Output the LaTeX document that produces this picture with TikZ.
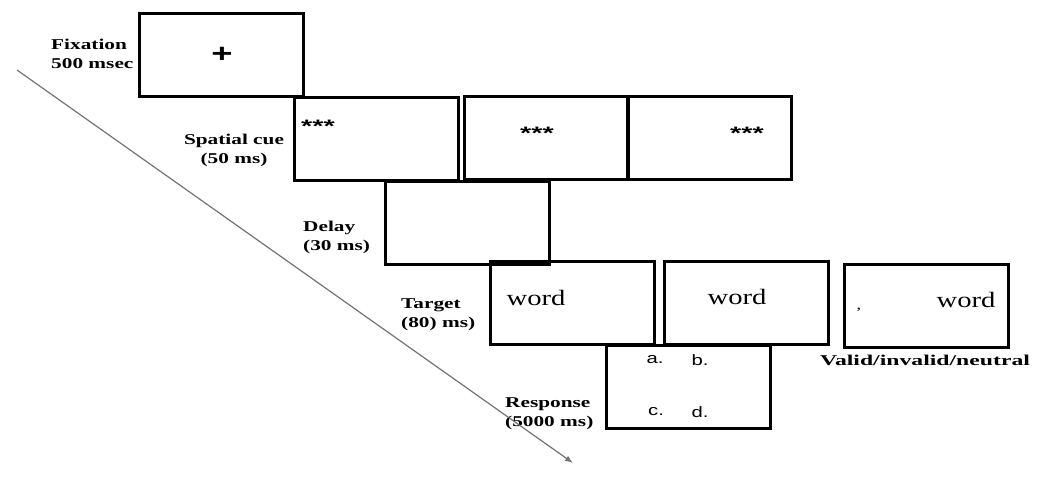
\documentclass[tikz,border=0pt]{standalone}
\usepackage{fontspec}
\usetikzlibrary{arrows.meta}
\setmainfont{Liberation Serif}
\newfontfamily\lblfont[FakeStretch=1.42]{Liberation Serif}
\newfontfamily\validfont[FakeStretch=1.58]{Liberation Serif}
\newfontfamily\wordfont[FakeStretch=1.3]{Liberation Serif}
\newfontfamily\starfont[FakeStretch=1.6]{Liberation Sans}
\newfontfamily\optfont[FakeStretch=1.35]{Liberation Sans}
\newfontfamily\plusfont[FakeStretch=1.4]{Liberation Sans}

\begin{document}
\begin{tikzpicture}[x=1pt,y=-1pt,
  screen/.style={draw=black, line width=2.8pt, minimum width=164pt,
    minimum height=83pt, inner sep=0pt, anchor=north west},
  phase/.style={font=\lblfont\bfseries\fontsize{15}{19}\selectfont,
    inner sep=0pt, align=left, anchor=west},
  stars/.style={font=\starfont\bfseries\fontsize{18}{18}\selectfont, inner sep=0pt},
  stim/.style={font=\wordfont\fontsize{22}{22}\selectfont, inner sep=0pt},
  choice/.style={font=\optfont\fontsize{15}{15}\selectfont, inner sep=0pt},
  timeline/.style={draw=black!55, line width=1.2pt,
    -{Latex[length=8pt,width=6pt]}}]
\useasboundingbox (0,0) rectangle (1037,492);

% screens of the trial sequence
\node[screen] (fix)   at (138,12)  {};
\node[screen] (cue1)  at (293,96)  {};
\node[screen] (cue2)  at (463,95)  {};
\node[screen] (cue3)  at (626,95)  {};
\node[screen] (delay) at (384,180) {};
\node[screen] (tgt1)  at (489,260) {};
\node[screen] (tgt2)  at (663,260) {};
\node[screen] (tgt3)  at (843,263) {};
\node[screen] (resp)  at (605,344) {};

% screen contents
\node[font=\plusfont\bfseries\fontsize{26}{26}\selectfont, inner sep=0pt]
  (plus) at (222,55) {+};
\node[stars] (s1) at (318,126) {***};
\node[stars] (s2) at (537,133) {***};
\node[stars] (s3) at (747,133) {***};
\node[stim] (w1) at (536,298) {word};
\node[stim] (w2) at (737,297) {word};
\node[stim] (w3) at (966,300) {word};
\node[font=\wordfont\fontsize{14}{14}\selectfont, inner sep=0pt]
  (mark) at (859,310) {,};
\node[choice] (oa) at (655,360) {a.};
\node[choice] (ob) at (700,360) {b.};
\node[choice] (oc) at (656,412) {c.};
\node[choice] (od) at (700,412) {d.};

% phase labels
\node[phase] (lfix)   at (51,54)   {Fixation\\500 msec};
\node[phase, align=center, anchor=center] (lcue) at (234,150)
  {Spatial cue\\(50 ms)};
\node[phase] (ldelay) at (303,237) {Delay\\(30 ms)};
\node[phase] (ltgt)   at (401,315) {Target\\(80) ms)};
\node[phase] (lresp)  at (505,414) {Response\\(5000 ms)};
\node[font=\validfont\bfseries\fontsize{15}{15}\selectfont, inner sep=0pt]
  (lvalid) at (925,360) {Valid/invalid/neutral};

% time axis
\coordinate (tstart) at (17,70);
\coordinate (tend)   at (573,463);
\draw[timeline] (tstart) -- (tend);
\end{tikzpicture}
\end{document}
